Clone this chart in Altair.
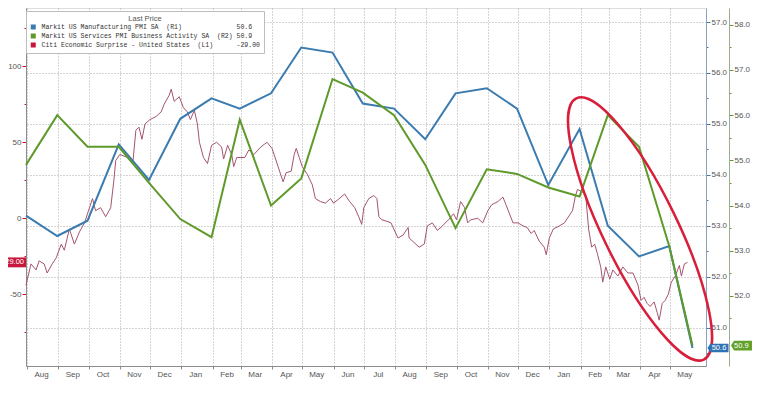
import altair as alt
import pandas as pd

# ---------------- data ----------------
pmi_dates = ["2017-07-31", "2017-08-31", "2017-09-30", "2017-10-31", "2017-11-30", "2017-12-31",
             "2018-01-31", "2018-02-28", "2018-03-31", "2018-04-30", "2018-05-31", "2018-06-30",
             "2018-07-31", "2018-08-31", "2018-09-30", "2018-10-31", "2018-11-30", "2018-12-31",
             "2019-01-31", "2019-02-28", "2019-03-31", "2019-04-30", "2019-05-23"]
mfg_pmi = [53.2, 52.8, 53.1, 54.6, 53.9, 55.1, 55.5, 55.3, 55.6, 56.5, 56.4, 55.4,
           55.3, 54.7, 55.6, 55.7, 55.3, 53.8, 54.9, 53.0, 52.4, 52.6, 50.6]
svc_pmi = [54.9, 56.0, 55.3, 55.3, 54.5, 53.7, 53.3, 55.9, 54.0, 54.6, 56.8, 56.5,
           56.0, 54.9, 53.5, 54.8, 54.7, 54.4, 54.2, 56.0, 55.3, 53.1, 50.9]

cesi_dates = [
    "2017-07-31", "2017-08-05", "2017-08-10", "2017-08-13", "2017-08-18", "2017-08-21", "2017-08-26", "2017-08-30",
    "2017-09-04", "2017-09-07", "2017-09-12", "2017-09-17", "2017-09-22", "2017-09-27",
    "2017-10-02", "2017-10-05", "2017-10-08", "2017-10-13", "2017-10-18", "2017-10-23", "2017-10-26", "2017-10-28",
    "2017-11-01", "2017-11-09", "2017-11-14", "2017-11-17", "2017-11-20", "2017-11-23", "2017-11-26",
    "2017-12-01", "2017-12-07", "2017-12-12", "2017-12-15", "2017-12-20", "2017-12-22", "2017-12-25", "2017-12-30",
    "2018-01-03", "2018-01-07", "2018-01-10", "2018-01-14", "2018-01-17", "2018-01-19", "2018-01-23", "2018-01-27",
    "2018-01-31", "2018-02-05", "2018-02-10", "2018-02-12", "2018-02-16", "2018-02-20", "2018-02-22", "2018-02-25",
    "2018-03-05", "2018-03-09", "2018-03-14", "2018-03-21", "2018-03-27", "2018-04-01", "2018-04-07", "2018-04-12",
    "2018-04-15", "2018-04-20", "2018-04-23", "2018-04-25", "2018-04-28", "2018-05-01", "2018-05-06", "2018-05-11",
    "2018-05-14", "2018-05-19", "2018-05-24", "2018-05-29", "2018-06-01", "2018-06-05", "2018-06-12", "2018-06-17",
    "2018-06-22", "2018-06-26", "2018-06-29", "2018-07-01", "2018-07-06", "2018-07-11", "2018-07-14", "2018-07-16",
    "2018-07-19", "2018-07-24", "2018-07-28", "2018-08-04", "2018-08-09", "2018-08-14", "2018-08-15", "2018-08-20",
    "2018-08-25", "2018-08-30", "2018-09-02", "2018-09-07", "2018-09-12", "2018-09-17", "2018-09-23", "2018-09-28",
    "2018-10-01", "2018-10-05", "2018-10-09", "2018-10-12", "2018-10-15", "2018-10-22", "2018-10-27", "2018-11-01",
    "2018-11-05", "2018-11-11", "2018-11-16", "2018-11-19", "2018-11-26", "2018-12-01", "2018-12-06", "2018-12-10",
    "2018-12-14", "2018-12-17", "2018-12-22", "2018-12-27", "2018-12-29", "2019-01-01", "2019-01-05", "2019-01-11",
    "2019-01-16", "2019-01-21", "2019-01-24", "2019-01-27", "2019-01-29", "2019-02-01", "2019-02-06", "2019-02-09",
    "2019-02-12", "2019-02-15", "2019-02-18", "2019-02-21", "2019-02-23", "2019-02-26", "2019-03-02", "2019-03-05",
    "2019-03-10", "2019-03-15", "2019-03-20", "2019-03-25", "2019-03-30", "2019-04-02", "2019-04-05", "2019-04-08",
    "2019-04-11", "2019-04-15", "2019-04-18", "2019-04-20", "2019-04-23", "2019-04-26", "2019-04-29", "2019-05-02",
    "2019-05-06", "2019-05-10", "2019-05-12", "2019-05-15", "2019-05-18"]
cesi_values = [
    -44, -30, -34, -28, -30, -36, -30, -26,
    -17, -21, -7, -17, -9, -3,
    7, 13, 5, 7, 1, 7, 24, 38,
    42, 40, 37, 58, 60, 52, 62,
    65, 67, 70, 75, 81, 85, 77, 80,
    73, 70, 65, 71, 62, 50, 40, 36,
    48, 50, 47, 39, 48, 42, 34, 40,
    40, 45, 42, 47, 50, 46, 34, 24,
    30, 31, 42, 46, 40, 34, 29, 22,
    13, 11, 10, 13, 10, 12, 16, 11,
    7, 1, -4, 7, 13, 15, 13, 1,
    -1, -2, -3, -13, -11, -6, -13, -16,
    -19, -17, -5, -3, -8, -5, -1, 3,
    -1, 11, 7, -3, -1, 0, -3, 5,
    9, 11, 14, 9, -3, -3, -5, -6,
    -10, -8, -15, -19, -24, -13, -7, -5,
    -3, 2, 5, 15, 19, 18, 16, -7,
    -19, -17, -24, -32, -42, -32, -40, -34,
    -38, -32, -36, -36, -44, -54, -52, -56,
    -58, -55, -62, -67, -56, -54, -50, -42,
    -38, -31, -38, -30, -29]

series_names = ["Markit US Manufacturing PMI SA  (R1)",
                "Markit US Services PMI Business Activity SA  (R2)",
                "Citi Economic Surprise - United States  (L1)"]
last_prices = ["50.6", "50.9", "-29.00"]
series_colors = ["#3a7bb0", "#5e9a2a", "#c8173d"]
cesi_line_color = "#a4546f"

month_ticks = pd.date_range("2017-08-01", "2019-05-01", freq="MS")
l1_ticks = [-75, -50, -25, 0, 25, 50, 75, 100, 125]
r1_ticks = [50.5, 51, 51.5, 52, 52.5, 53, 53.5, 54, 54.5, 55, 55.5, 56, 56.5, 57]
r2_ticks = [51.5, 52, 52.5, 53, 53.5, 54, 54.5, 55, 55.5, 56, 56.5, 57, 57.5, 58]

L1_DOMAIN = [-97.2, 138.4]
R1_DOMAIN = [50.248, 57.275]
R2_DOMAIN = [50.448, 58.372]

# annotation ellipse (anchored in data space: date + left-axis value)
ellipse_center_date = "2019-04-01"
ellipse_center_value = -7

W, H = 680, 358

# ---------------- helpers ----------------
NB = "\u00a0"


def legend_label(name, price, col=50):
    txt = name + " " * max(1, col - len(name)) + price
    return txt.replace(" ", NB)


labels = [legend_label(n, p) for n, p in zip(series_names, last_prices)]

mfg_df = pd.DataFrame({"date": pd.to_datetime(pmi_dates), "value": mfg_pmi, "series": labels[0]})
svc_df = pd.DataFrame({"date": pd.to_datetime(pmi_dates), "value": svc_pmi, "series": labels[1]})
cesi_df = pd.DataFrame({"date": pd.to_datetime(cesi_dates), "value": cesi_values, "series": labels[2]})

GRID = "#a9a9a9"
LABEL = "#555555"
FONT = "Liberation Sans"

color_scale = alt.Scale(domain=labels, range=series_colors)
legend = alt.Legend(
    title="Last Price", orient="none", legendX=0, legendY=3, direction="vertical",
    fillColor="white", strokeColor="#bdbdbd", padding=4,
    titleFont=FONT, titleFontSize=7.5, titleFontWeight="normal", titleColor="#555555",
    titleAnchor="middle", titlePadding=1,
    labelFont="Liberation Mono", labelFontSize=6.5, labelColor="#333333", labelLimit=500,
    symbolType="square", symbolSize=4, symbolStrokeWidth=3, labelOffset=5, rowPadding=2,
    clipHeight=7,
)

x_axis = alt.Axis(
    values=[alt.DateTime(year=int(d.year), month=int(d.month), date=1) for d in month_ticks],
    format="%b", labelOffset=14, grid=True, gridDash=[1, 2], gridColor=GRID,
    tickSize=3, tickColor="#8c8c8c", domainColor="#8c8c8c", labelColor=LABEL,
    labelFont=FONT, labelFontSize=8, labelPadding=1, labelOverlap=False, title=None,
)
x_enc = alt.X(
    "date:T",
    scale=alt.Scale(domain=[alt.DateTime(year=2017, month=7, date=31),
                            alt.DateTime(year=2019, month=6, date=5, hours=10)]),
    axis=x_axis,
)


def cond(test, a, b):
    return {"condition": {"test": test, "value": a}, "value": b}


l1_axis = alt.Axis(
    orient="left", values=l1_ticks, title=None, grid=False,
    labelExpr="datum.value % 50 === 0 ? '' + datum.value : ''",
    tickSize=cond("datum.value % 50 === 0", 4, 2), tickColor="#c8102e",
    domainColor="#8c8c8c", labelColor=LABEL, labelFont=FONT, labelFontSize=8, labelPadding=1,
)
r1_axis = alt.Axis(
    orient="right", values=r1_ticks, title=None, grid=True, gridDash=[1, 2], gridColor=GRID,
    gridOpacity=cond("datum.value % 1 === 0", 1, 0),
    labelExpr="datum.value % 1 === 0 ? format(datum.value, '.1f') : ''",
    tickSize=cond("datum.value % 1 === 0", 4, 2), tickColor="#3a7bb0",
    domainColor="#8aa2b8", labelColor=LABEL, labelFont=FONT, labelFontSize=8, labelPadding=1,
)
r2_axis = alt.Axis(
    orient="right", offset=23, values=r2_ticks, title=None, grid=False,
    labelExpr="datum.value % 1 === 0 ? format(datum.value, '.1f') : ''",
    tickSize=cond("datum.value % 1 === 0", 4, 2), tickColor="#5e9a2a",
    domainColor="#9fac92", labelColor=LABEL, labelFont=FONT, labelFontSize=8, labelPadding=1,
)


def yscale(dom):
    return alt.Scale(domain=dom, nice=False, zero=False)


cesi_line = alt.Chart(cesi_df).mark_line(strokeWidth=1).encode(
    x=x_enc,
    y=alt.Y("value:Q", scale=yscale(L1_DOMAIN), axis=l1_axis),
    color=alt.Color("series:N", scale=color_scale, legend=legend),
    stroke=alt.value(cesi_line_color),
)
mfg_line = alt.Chart(mfg_df).mark_line(strokeWidth=2).encode(
    x=x_enc,
    y=alt.Y("value:Q", scale=yscale(R1_DOMAIN), axis=r1_axis),
    color=alt.Color("series:N", scale=color_scale, legend=legend),
)
svc_line = alt.Chart(svc_df).mark_line(strokeWidth=2).encode(
    x=x_enc,
    y=alt.Y("value:Q", scale=yscale(R2_DOMAIN), axis=r2_axis),
    color=alt.Color("series:N", scale=color_scale, legend=legend),
)

ellipse_df = pd.DataFrame({"date": pd.to_datetime([ellipse_center_date]), "value": [ellipse_center_value]})
ELLIPSE_PATH = "M -1 0 A 1 0.256 0 1 0 1 0 A 1 0.256 0 1 0 -1 0 Z"
ellipse = alt.Chart(ellipse_df).mark_point(
    shape=ELLIPSE_PATH, size=84500, angle=64, filled=False, color="#d81e3a",
    strokeWidth=2.5, opacity=1,
).encode(
    x=x_enc,
    y=alt.Y("value:Q", scale=yscale(L1_DOMAIN), axis=None),
)

RECT_PATH = "M -1 -0.38 L 1 -0.38 L 1 0.38 L -1 0.38 Z"
ARROW_PATH = "M -1 0 L -0.75 -0.4 L 1 -0.4 L 1 0.4 L -0.75 0.4 Z"

cesi_tag_df = pd.DataFrame({"value": [cesi_values[-1]], "label": [last_prices[2]]})
mfg_tag_df = pd.DataFrame({"value": [mfg_pmi[-1]], "label": [last_prices[0]]})
svc_tag_df = pd.DataFrame({"value": [svc_pmi[-1]], "label": [last_prices[1]]})


def tag(df, dom, color, cx, size, path, tx, align):
    box = alt.Chart(df).mark_point(shape=path, size=size, filled=True, color=color, opacity=1).encode(
        x=alt.value(cx), y=alt.Y("value:Q", scale=yscale(dom), axis=None))
    txt = alt.Chart(df).mark_text(color="white", fontSize=7.5, font=FONT, align=align, baseline="middle").encode(
        x=alt.value(tx), y=alt.Y("value:Q", scale=yscale(dom), axis=None), text="label:N")
    return [box, txt]


layers = [cesi_line, mfg_line, svc_line, ellipse]
layers += tag(cesi_tag_df, L1_DOMAIN, "#c8173d", -13, 676, RECT_PATH, -2, "right")
layers += tag(mfg_tag_df, R1_DOMAIN, "#2f73b5", W + 12, 441, ARROW_PATH, W + 13, "center")
layers += tag(svc_tag_df, R2_DOMAIN, "#63a12a", W + 37, 576, ARROW_PATH, W + 28, "left")

chart = alt.layer(*layers).resolve_scale(y="independent").properties(
    width=W, height=H,
    autosize=alt.AutoSizeParams(type="none"),
    padding={"left": 18, "top": 0, "right": 744 - 18 - W, "bottom": 14},
    background="white",
).configure_view(stroke=None).configure(font=FONT)

chart.save("out.html", embed_options={"renderer": "svg", "actions": False})
